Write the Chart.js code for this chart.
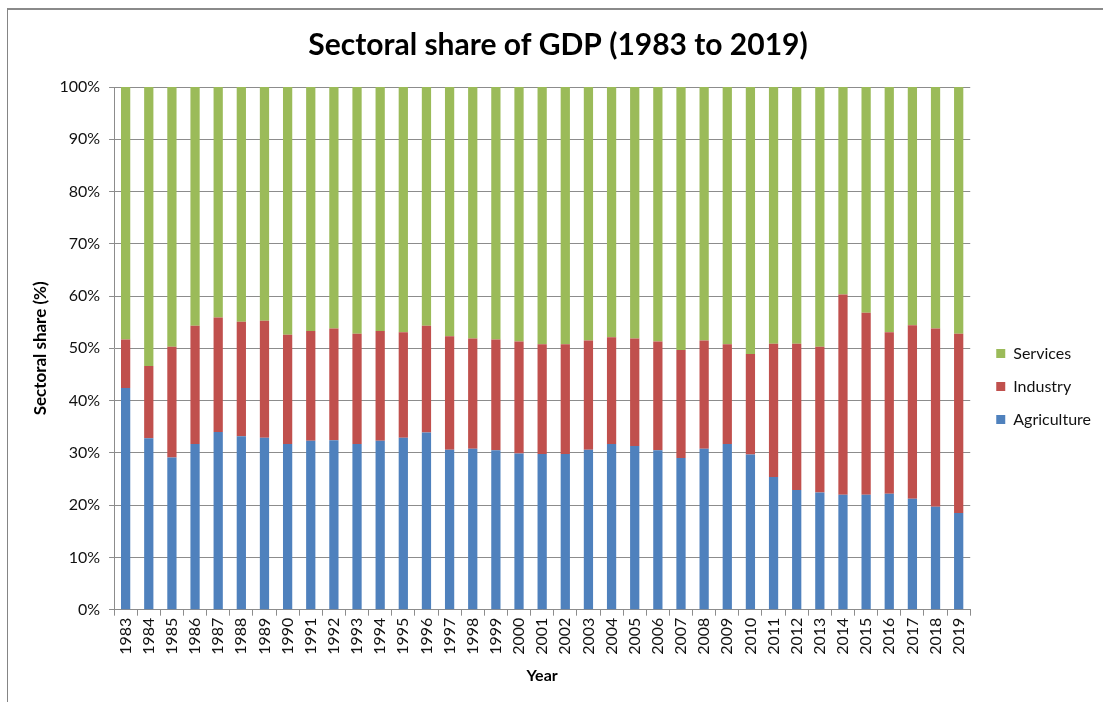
<!DOCTYPE html>
<html>
<head>
<meta charset="utf-8">
<script src="https://cdn.jsdelivr.net/npm/chart.js@4/dist/chart.umd.min.js"></script>
<style>
  html, body { margin: 0; padding: 0; background: #fff; }
  #wrap { position: relative; width: 1103px; height: 702px; overflow: hidden; }
  #frame { position: absolute; left: 7px; top: 8px; width: 1200px; height: 800px;
           border-left: 1px solid #858585; border-top: 2px solid #8a8a8a; pointer-events: none; }
</style>
</head>
<body>
<div id="wrap">
  <canvas id="c" width="1103" height="702"></canvas>
  <div id="frame"></div>
</div>
<script>
// Sectoral share of GDP, percent of total, 1983-2019
const years = ['1983','1984','1985','1986','1987','1988','1989','1990','1991','1992',
               '1993','1994','1995','1996','1997','1998','1999','2000','2001','2002',
               '2003','2004','2005','2006','2007','2008','2009','2010','2011','2012',
               '2013','2014','2015','2016','2017','2018','2019'];

const agriculture = [42.4, 32.8, 29.1, 31.7, 34.0, 33.2, 32.9, 31.7, 32.3, 32.4,
                     31.7, 32.3, 32.9, 33.9, 30.6, 30.8, 30.5, 29.9, 29.8, 29.8,
                     30.6, 31.7, 31.3, 30.5, 29.0, 30.8, 31.7, 29.7, 25.4, 22.9,
                     22.4, 22.0, 22.0, 22.2, 21.2, 19.7, 18.5];

const industry = [9.3, 13.8, 21.2, 22.6, 21.9, 21.9, 22.4, 20.9, 21.0, 21.4,
                  21.1, 21.0, 20.2, 20.4, 21.7, 21.1, 21.2, 21.4, 21.0, 21.0,
                  20.9, 20.4, 20.6, 20.8, 20.7, 20.7, 19.1, 19.2, 25.5, 28.0,
                  27.9, 38.3, 34.8, 30.9, 33.2, 34.1, 34.3];

const services = [48.3, 53.4, 49.7, 45.7, 44.1, 44.9, 44.7, 47.4, 46.7, 46.2,
                  47.2, 46.7, 46.9, 45.7, 47.7, 48.1, 48.3, 48.7, 49.2, 49.2,
                  48.5, 47.9, 48.1, 48.7, 50.3, 48.5, 49.2, 51.1, 49.1, 49.1,
                  49.7, 39.7, 43.2, 46.9, 45.6, 46.2, 47.2];

const yMax = 100;
const yStep = 10;

const FONT = 'Lato, "Open Sans", sans-serif';
const GRID = '#8c8c8c';
const TEXT = '#111111';

// Nudge the right-hand legend so it sits level with the middle of the plot
const legendOffset = {
  id: 'legendOffset',
  afterLayout(chart, args, opts) {
    const l = chart.legend;
    if (!l) return;
    l.left += opts.dx; l.right += opts.dx;
    l.top += opts.dy; l.bottom += opts.dy;
  }
};

new Chart(document.getElementById('c'), {
  type: 'bar',
  data: {
    labels: years,
    datasets: [
      { label: 'Agriculture', data: agriculture, backgroundColor: '#4F81BD' },
      { label: 'Industry',    data: industry,    backgroundColor: '#C0504D' },
      { label: 'Services',    data: services,    backgroundColor: '#9BBB59' }
    ]
  },
  plugins: [legendOffset],
  options: {
    responsive: false,
    animation: false,
    events: [],
    datasets: { bar: { barPercentage: 0.4, categoryPercentage: 1.0, borderWidth: 0 } },
    layout: { padding: { left: 24, right: 11, top: 14, bottom: 13 } },
    plugins: {
      legendOffset: { dx: 9, dy: 35 },
      title: {
        display: true,
        text: 'Sectoral share of GDP (1983 to 2019)',
        color: '#000',
        font: { family: FONT, size: 30, weight: 'bold' },
        padding: { top: 13, bottom: 24 }
      },
      legend: {
        position: 'right',
        reverse: true,
        labels: {
          color: TEXT,
          font: { family: FONT, size: 16 },
          boxWidth: 9, boxHeight: 9,
          padding: 17
        }
      },
      tooltip: { enabled: false }
    },
    scales: {
      x: {
        stacked: true,
        grid: { display: true, drawOnChartArea: false, drawTicks: true, tickLength: 6,
                offset: true, color: GRID },
        border: { display: true, color: GRID, width: 1 },
        ticks: { color: TEXT, font: { family: FONT, size: 16 }, minRotation: 90, maxRotation: 90,
                 autoSkip: false, padding: 2 },
        title: { display: true, text: 'Year', color: '#000',
                 font: { family: FONT, size: 16, weight: 'bold' }, padding: { top: 9, bottom: 4 } }
      },
      y: {
        stacked: true,
        min: 0, max: yMax,
        grid: { color: GRID, lineWidth: 1, drawTicks: true, tickLength: 5 },
        border: { display: true, color: GRID, width: 1 },
        ticks: { stepSize: yStep, color: TEXT, font: { family: FONT, size: 16 }, padding: 9,
                 callback: v => v + '%' },
        title: { display: true, text: 'Sectoral share (%)', color: '#000',
                 font: { family: FONT, size: 17, weight: 'bold' }, padding: { top: 6, bottom: 0 } }
      }
    }
  }
});
</script>
</body>
</html>
